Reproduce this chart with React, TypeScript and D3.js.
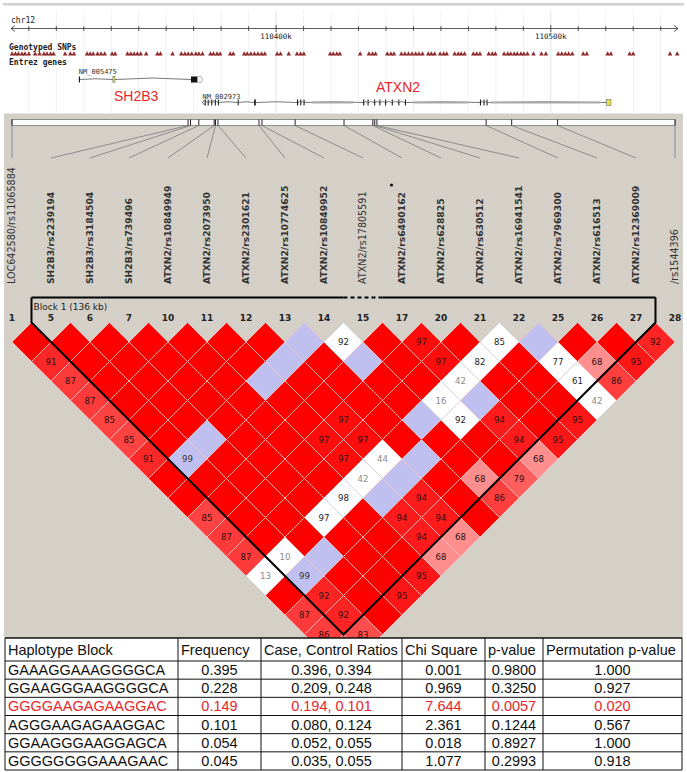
import React from 'react';
import * as d3 from 'd3';

// ---------- DATA ----------
const markerNames = [
  'LOC642580/rs11065884', 'SH2B3/rs2239194', 'SH2B3/rs3184504', 'SH2B3/rs739496',
  'ATXN2/rs10849949', 'ATXN2/rs2073950', 'ATXN2/rs2301621', 'ATXN2/rs10774625',
  'ATXN2/rs10849952', 'ATXN2/rs17805591', 'ATXN2/rs6490162', 'ATXN2/rs628825',
  'ATXN2/rs630512', 'ATXN2/rs16941541', 'ATXN2/rs7969300', 'ATXN2/rs616513',
  'ATXN2/rs12369009', '/rs1544396',
];
const markerNumbers = [1, 5, 6, 7, 10, 11, 12, 13, 14, 15, 17, 20, 21, 22, 25, 26, 27, 28];
// marker positions (kb from first marker)
const markerPosKb = [0, 64.8, 65.7, 68.75, 74.4, 74.9, 75.8, 90.9, 92.0, 104.2, 122.2, 132.8, 133.5, 134.3, 174.5, 183.9, 200.8, 244.0];
const blockStart = 1;
const blockEnd = 16;
const blockExcluded = [9];
const blockLabel = 'Block 1 (136 kb)';
const taggedMarker = 10;

// LD matrix rows: row i lists pairs (i, j) for j = i+1 .. n-1
// R = D'=1 strong LD, B = D'=1 low LOD, Wnn = low LOD D'=nn, nn = strong LD D'=nn
const ldRows = [
  'R 91 87 87 85 85 91 R R 85 87 87 W13 R 87 86 85',
  'R R R R R R B99 R R R R W10 B99 92 92 83',
  'R R R R R B R R R R R B R R R',
  'R R R R R R R R R W97 R R R 95',
  'R R R R R R R R W98 R R R 95',
  'R R B R R 97 97 W42 B 94 94 68',
  'R B R R 97 97 W44 B 94 94 68',
  'B R R R R R B R R R',
  'W92 B R R B R R 68 86',
  'R R R W16 W92 R R 79',
  '97 97 W42 B 94 94 68',
  'R W82 R R R 95',
  'W85 R R R 95',
  'B W77 W61 W42',
  'R 68 86',
  'R 95',
  '92',
];

// header browser data (kb on chr12)
const rulerTicks = d3.range(110310, 110546, 10);
const rulerLabels = [110400, 110500];
const genotypedSnps = [
  110303.9, 110305.1, 110306.2, 110307.5, 110308.6, 110310.0, 110312.3, 110313.9, 110315.5, 110316.6,
  110317.9, 110319.0, 110323.2, 110325.1, 110326.4, 110331.2, 110332.3, 110333.4, 110335.0, 110336.3,
  110337.6, 110340.3, 110341.4, 110345.9, 110347.1, 110348.3, 110349.5, 110350.7, 110352.7, 110356.8,
  110357.9, 110362.3, 110365.5, 110366.8, 110368.0, 110369.3, 110370.8, 110371.9, 110373.2, 110376.1,
  110377.2, 110378.5, 110379.6, 110383.3, 110384.4, 110388.4, 110389.5, 110390.8, 110392.1, 110393.4,
  110394.7, 110395.9, 110400.4, 110401.6, 110404.6, 110407.6, 110408.9, 110410.1, 110419.7, 110420.8,
  110422.1, 110423.2, 110430.6, 110433.8, 110435.1, 110436.2, 110440.5, 110441.8, 110442.9, 110445.6,
  110446.9, 110448.2, 110449.5, 110450.8, 110452.0, 110453.3, 110455.4, 110456.5, 110457.7, 110459.7,
  110461.0, 110462.1, 110465.0, 110466.3, 110467.4, 110468.6, 110471.8, 110473.0, 110474.2, 110477.4,
  110478.7, 110479.8, 110483.0, 110484.3, 110485.4, 110486.7, 110487.8, 110489.1, 110490.2, 110491.5,
  110493.7, 110496.6, 110498.2, 110502.7, 110504.0, 110505.3, 110506.5, 110507.8, 110511.8, 110513.1,
  110520.7, 110521.9, 110528.7, 110530.0, 110543.4, 110546.0,
];
const sh2b3Span = [110328.2, 110373.3];
const sh2b3Exons = [[110328.2, 110328.6], [110369.0, 110371.4]];
const sh2b3Yellow = [[110340.6, 110341.3]];
const sh2b3Tail = [110371.4, 110373.3];
const atxn2Span = [110373.2, 110521.9];
const atxn2Exons = [
  [110374.0, 110374.4], [110375.1, 110375.4], [110376.4, 110376.7], [110377.7, 110378.0], [110378.8, 110379.1],
  [110386.0, 110386.3], [110392.0, 110392.6], [110407.6, 110408.0], [110408.8, 110409.1], [110410.0, 110410.3],
  [110431.7, 110432.1], [110433.3, 110433.6], [110435.7, 110436.0], [110437.6, 110437.9], [110439.7, 110440.0],
  [110442.1, 110442.4], [110444.5, 110444.8], [110446.9, 110447.2], [110474.2, 110474.5], [110475.5, 110475.8],
  [110476.6, 110476.9],
];
const atxn2Yellow = [[110520.3, 110521.9]];
const atxn2Utr = [[110413, 110428], [110450, 110470], [110478, 110518]];

// table data
const tableHeaders = ['Haplotype Block', 'Frequency', 'Case, Control Ratios', 'Chi Square', 'p-value', 'Permutation p-value'];
const haplotypes = ['GAAAGGAAAGGGGCA', 'GGAAGGGAAGGGGCA', 'GGGGAAGAGAAGGAC', 'AGGGAAGAGAAGGAC', 'GGAAGGGAAGGAGCA', 'GGGGGGGGAAAGAAC'];
const frequencies = ['0.395', '0.228', '0.149', '0.101', '0.054', '0.045'];
const caseControl = ['0.396, 0.394', '0.209, 0.248', '0.194, 0.101', '0.080, 0.124', '0.052, 0.055', '0.035, 0.055'];
const chiSquare = ['0.001', '0.969', '7.644', '2.361', '0.018', '1.077'];
const pValues = ['0.9800', '0.3250', '0.0057', '0.1244', '0.8927', '0.2993'];
const permP = ['1.000', '0.927', '0.020', '0.567', '1.000', '0.918'];
const highlightRow = 2;

// ---------- LAYOUT ----------
const W = 687, H = 772;
const n = markerNames.length;
const xIdx = d3.scaleLinear().domain([0, n - 1]).range([12, 675]);
const half = (xIdx(1) - xIdx(0)) / 2;
const ldTop = 322.5;
const kbBar = d3.scaleLinear().domain([0, 244]).range([12, 675]);
const hdr = d3.scaleLinear().domain([110303.5, 110546.3]).range([11, 678]);
const colEdges = [5, 178, 261, 402, 485, 543, 682];
const tableTop = 638, headerH = 23, tableBottom = 770;
const rowH = (tableBottom - tableTop - headerH) / haplotypes.length;

const SANS = 'DejaVu Sans, Verdana, sans-serif';
const MONO = 'DejaVu Sans Mono, monospace';
const ARIAL = 'Liberation Sans, Arial, sans-serif';

function cellStyle(tok: string) {
  if (tok === 'R') return { fill: 'rgb(255,0,0)', label: null, txt: '#111' };
  if (tok[0] === 'B') return { fill: 'rgb(192,192,240)', label: tok.length > 1 ? tok.slice(1) : null, txt: '#333' };
  if (tok[0] === 'W') {
    const v = +tok.slice(1);
    return { fill: '#ffffff', label: tok.slice(1), txt: v < 50 ? '#8a8a8a' : '#222' };
  }
  const d = +tok / 100;
  const g = Math.round(Math.min(255, (255 - 32) * 2 * (1 - d)));
  return { fill: `rgb(255,${g},${g})`, label: tok, txt: '#2a1010' };
}

export default function App() {
  const cells: any[] = [];
  ldRows.forEach((row, i) => {
    row.split(' ').forEach((tok, k) => {
      const j = i + 1 + k;
      const cx = (xIdx(i) + xIdx(j)) / 2;
      const cy = ldTop + half * (j - i);
      cells.push({ i, j, cx, cy, ...cellStyle(tok) });
    });
  });

  const bLeft = xIdx(blockStart) - half;
  const bRight = xIdx(blockEnd) + half;
  const bMid = (bLeft + bRight) / 2;
  const bBottom = ldTop + (bRight - bLeft) / 2;
  const topLineY = 297.5;

  const arc = (x1: number, x2: number, y: number, h: number) => {
    const p = d3.path();
    p.moveTo(x1, y);
    p.quadraticCurveTo((x1 + x2) / 2, y - h, x2, y);
    return p.toString();
  };

  const rowsData = haplotypes.map((h, r) => [h, frequencies[r], caseControl[r], chiSquare[r], pValues[r], permP[r]]);

  return (
    <svg width={W} height={H} style={{ position: 'absolute', left: 0, top: 0, display: 'block', background: '#fff' }}>
      <defs>
        <clipPath id="ldclip">
          <rect x={0} y={0} width={W} height={tableTop} />
        </clipPath>
      </defs>
      {/* ===== Header (genome browser) ===== */}
      <rect x={0} y={0} width={W} height={113} fill="#fff" />
      <rect x={3} y={3} width={681} height={2.5} fill="#d0d0d0" />
      {rulerTicks.map((t) => (
        <line key={'g' + t} x1={hdr(t)} x2={hdr(t)} y1={10} y2={113}
          stroke={rulerLabels.includes(t) ? '#dfe5ea' : '#eef2f6'} strokeWidth={1} />
      ))}
      <text x={11} y={23} fontFamily={MONO} fontSize={8} fill="#222">chr12</text>
      <line x1={hdr.range()[0]} x2={hdr.range()[1]} y1={28.5} y2={28.5} stroke="#333" strokeWidth={0.8} />
      <path d={`M${hdr.range()[0] + 4},25.5 L${hdr.range()[0]},28.5 L${hdr.range()[0] + 4},31.5`} fill="none" stroke="#333" strokeWidth={0.8} />
      <path d={`M${hdr.range()[1] - 4},25.5 L${hdr.range()[1]},28.5 L${hdr.range()[1] - 4},31.5`} fill="none" stroke="#333" strokeWidth={0.8} />
      {rulerTicks.map((t) => (
        <line key={'t' + t} x1={hdr(t)} x2={hdr(t)} y1={rulerLabels.includes(t) ? 25 : 26} y2={rulerLabels.includes(t) ? 32 : 31} stroke="#333" strokeWidth={0.8} />
      ))}
      {rulerLabels.map((t) => (
        <text key={'l' + t} x={hdr(t)} y={39} textAnchor="middle" fontFamily={MONO} fontSize={7.5} fill="#222">{t + 'k'}</text>
      ))}
      <text x={9} y={50} fontFamily={MONO} fontSize={8} fontWeight="bold" fill="#222">Genotyped SNPs</text>
      {genotypedSnps.map((s, k) => (
        <path key={'s' + k} d={`M${hdr(s) - 2.3},55.5 L${hdr(s)},51.2 L${hdr(s) + 2.3},55.5 Z`} fill="#8e2a2a" />
      ))}
      <text x={9} y={65} fontFamily={MONO} fontSize={8} fontWeight="bold" fill="#222">Entrez genes</text>

      {/* SH2B3 gene */}
      <text x={hdr(sh2b3Span[0])} y={74} fontFamily={MONO} fontSize={7} fill="#333">NM_005475</text>
      <path d={arc(hdr(sh2b3Span[0]), hdr(sh2b3Yellow[0][0]), 79.5, 1.5)} fill="none" stroke="#666" strokeWidth={0.9} />
      <path d={arc(hdr(sh2b3Yellow[0][1]), hdr(sh2b3Exons[1][0]), 79.5, 3)} fill="none" stroke="#666" strokeWidth={0.9} />
      {sh2b3Exons.map((e, k) => (
        <rect key={'se' + k} x={hdr(e[0])} y={76.5} width={Math.max(1, hdr(e[1]) - hdr(e[0]))} height={6} fill="#111" />
      ))}
      {sh2b3Yellow.map((e, k) => (
        <rect key={'sy' + k} x={hdr(e[0])} y={76.5} width={Math.max(2, hdr(e[1]) - hdr(e[0]))} height={6} fill="#e6e64a" stroke="#555" strokeWidth={0.5} />
      ))}
      <path d={`M${hdr(sh2b3Tail[0])},76.5 L${hdr(sh2b3Tail[1]) - 1.5},76.5 L${hdr(sh2b3Tail[1])},79.5 L${hdr(sh2b3Tail[1]) - 1.5},82.5 L${hdr(sh2b3Tail[0])},82.5 Z`} fill="#f4f4f4" stroke="#888" strokeWidth={0.6} />
      <text x={114} y={101} fontFamily={ARIAL} fontSize={14} fill="#e8262a">SH2B3</text>

      {/* ATXN2 gene */}
      <text x={hdr(atxn2Span[0])} y={98.5} fontFamily={MONO} fontSize={7} fill="#333">NM_002973</text>
      {atxn2Exons.slice(0, -1).map((e, k) => (
        <path key={'ai' + k} d={arc(hdr(e[1]), hdr(atxn2Exons[k + 1][0]), 102.5, hdr(atxn2Exons[k + 1][0]) - hdr(e[1]) > 10 ? 1.5 : 2)} fill="none" stroke="#666" strokeWidth={0.9} />
      ))}
      <path d={arc(hdr(atxn2Exons[atxn2Exons.length - 1][1]), hdr(atxn2Yellow[0][0]), 102.5, 1.5)} fill="none" stroke="#666" strokeWidth={0.9} />
      {atxn2Utr.map((u, k) => (
        <rect key={'au' + k} x={hdr(u[0])} y={101.5} width={hdr(u[1]) - hdr(u[0])} height={2} fill="#aaa" />
      ))}
      <path d={`M${hdr(atxn2Span[0]) + 2},100 L${hdr(atxn2Span[0])},102.5 L${hdr(atxn2Span[0]) + 2},105`} fill="none" stroke="#333" strokeWidth={0.8} />
      {atxn2Exons.map((e, k) => (
        <rect key={'ae' + k} x={hdr(e[0])} y={99.5} width={Math.max(1, hdr(e[1]) - hdr(e[0]))} height={6} fill="#111" />
      ))}
      {atxn2Yellow.map((e, k) => (
        <rect key={'ay' + k} x={hdr(e[0])} y={99.5} width={Math.max(2, hdr(e[1]) - hdr(e[0]))} height={6} fill="#e6e64a" stroke="#555" strokeWidth={0.5} />
      ))}
      <text x={376} y={92} fontFamily={ARIAL} fontSize={14} fill="#e8262a">ATXN2</text>

      {/* ===== Haploview panel ===== */}
      <rect x={4} y={113.5} width={679} height={tableTop - 113.5} fill="#d4d0c8" />
      <rect x={kbBar(0)} y={119.5} width={kbBar(244) - kbBar(0)} height={6} fill="#fff" stroke="#777" strokeWidth={0.8} />
      {markerPosKb.map((p, k) => (
        <g key={'m' + k}>
          <line x1={kbBar(p)} x2={kbBar(p)} y1={119.5} y2={125.5} stroke="#222" strokeWidth={1} />
          <line x1={kbBar(p)} y1={125.5} x2={xIdx(k)} y2={158} stroke="#7a7a7a" strokeWidth={0.8} />
        </g>
      ))}
      {markerNames.map((nm, k) => {
        const inBlock = k >= blockStart && k <= blockEnd && !blockExcluded.includes(k);
        return (
          <text key={'n' + k} transform={`translate(${xIdx(k)},284) rotate(-90)`} dy="0.36em"
            fontFamily={SANS} fontSize={inBlock ? 9.2 : 9.6} fontWeight={inBlock ? 'bold' : 'normal'} fill="#333">{nm}</text>
        );
      })}
      <circle cx={xIdx(taggedMarker) - 10.5} cy={185} r={1.6} fill="#111" />

      {/* LD cells */}
      <g clipPath="url(#ldclip)">
        {cells.map((c) => (
          <g key={c.i + '-' + c.j}>
            <path d={`M${c.cx},${c.cy - half} L${c.cx + half},${c.cy} L${c.cx},${c.cy + half} L${c.cx - half},${c.cy} Z`}
              fill={c.fill} stroke={c.fill === '#ffffff' ? '#cfcfcf' : '#f6c4c4'} strokeWidth={0.8} />
            {c.label && c.cy + 3 < tableTop + 2 && (
              <text x={c.cx} y={c.cy + 3} textAnchor="middle" fontFamily={SANS} fontSize={8.6} fill={c.txt}>{c.label}</text>
            )}
          </g>
        ))}
      </g>

      {/* marker numbers */}
      {markerNumbers.map((num, k) => (
        <text key={'num' + k} x={xIdx(k)} y={321} textAnchor="middle" fontFamily={SANS} fontSize={9} fontWeight="bold" fill="#222">{num}</text>
      ))}

      {/* block outline */}
      <text x={bLeft + 2} y={310} fontFamily={SANS} fontSize={9} fill="#222">{blockLabel}</text>
      <path d={`M${bLeft},${topLineY} L${bLeft},${ldTop} L${bMid},${bBottom} L${bRight},${ldTop} L${bRight},${topLineY}`}
        fill="none" stroke="#000" strokeWidth={2} />
      <line x1={bLeft} x2={xIdx(blockExcluded[0]) - half} y1={topLineY} y2={topLineY} stroke="#000" strokeWidth={2} />
      <line x1={xIdx(blockExcluded[0]) - half} x2={xIdx(blockExcluded[0]) + half} y1={topLineY} y2={topLineY} stroke="#000" strokeWidth={2} strokeDasharray="4,3" />
      <line x1={xIdx(blockExcluded[0]) + half} x2={bRight} y1={topLineY} y2={topLineY} stroke="#000" strokeWidth={2} />

      {/* ===== Table ===== */}
      <rect x={colEdges[0]} y={tableTop} width={colEdges[colEdges.length - 1] - colEdges[0]} height={tableBottom - tableTop} fill="#fff" />
      {tableHeaders.map((h, c) => (
        <text key={'h' + c} x={colEdges[c] + 3} y={tableTop + headerH / 2 + 5} fontFamily={ARIAL} fontSize={14.5} fill="#111">{h}</text>
      ))}
      {rowsData.map((row, r) => {
        const yc = tableTop + headerH + rowH * r + rowH / 2 + 5;
        const col = r === highlightRow ? '#e8262a' : '#111';
        return row.map((v, c) => (
          <text key={'c' + r + '-' + c} x={c === 0 ? colEdges[0] + 3 : (colEdges[c] + colEdges[c + 1]) / 2} y={yc}
            textAnchor={c === 0 ? 'start' : 'middle'} fontFamily={ARIAL} fontSize={14.5} fill={col}>{v}</text>
        ));
      })}
      {d3.range(haplotypes.length + 2).map((r) => {
        const y = r === 0 ? tableTop : tableTop + headerH + rowH * (r - 1);
        return <line key={'hl' + r} x1={colEdges[0]} x2={colEdges[colEdges.length - 1]} y1={y} y2={y} stroke="#111" strokeWidth={r === 0 ? 1.6 : 1} />;
      })}
      {colEdges.map((x, c) => (
        <line key={'vl' + c} x1={x} x2={x} y1={tableTop} y2={tableBottom} stroke="#111" strokeWidth={1} />
      ))}
    </svg>
  );
}
